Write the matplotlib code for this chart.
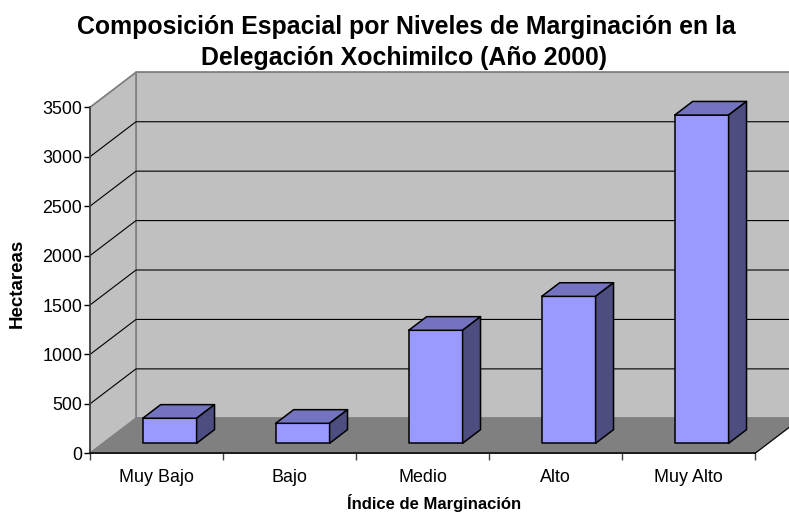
import matplotlib
matplotlib.use('Agg')
import matplotlib.pyplot as plt
from matplotlib.patches import Polygon

categories = ['Muy Bajo', 'Bajo', 'Medio', 'Alto', 'Muy Alto']
hectareas = [253, 202, 1143, 1486, 3320]
y_ticks = [0, 500, 1000, 1500, 2000, 2500, 3000, 3500]

# oblique offset of the back wall, in data units
DX = 46 / 133.0
DY = 354.0
BAR_W = 0.405
BAR_FRONT = 0.286
BAR_DEPTH = 0.39


def proj(x, v, d):
    return (x + d * DX, v + d * DY)


def face(ax, pts, color, edge, lw=1.0, z=1):
    ax.add_patch(Polygon(pts, closed=True, facecolor=color, edgecolor=edge,
                         linewidth=lw, clip_on=False, zorder=z, joinstyle='round'))


plt.rcParams['font.family'] = ['Liberation Sans', 'DejaVu Sans']

fig = plt.figure(figsize=(7.89, 5.12), dpi=100)
ax = fig.add_axes([90 / 789., (512 - 453.3) / 512., 665 / 789., 346 / 512.])
ax.set_xlim(0, 5)
ax.set_ylim(0, 3500)
ax.patch.set_visible(False)

# walls and floor
xr = 5.0
face(ax, [proj(0, 0, 1), proj(xr, 0, 1), proj(xr, 3500, 1), proj(0, 3500, 1)], '#c0c0c0', '#808080', 1.2)
face(ax, [proj(0, 0, 0), proj(0, 0, 1), proj(0, 3500, 1), proj(0, 3500, 0)], '#c0c0c0', '#808080', 1.2)
face(ax, [proj(0, 0, 0), proj(xr, 0, 0), proj(xr, 0, 1), proj(0, 0, 1)], '#808080', '#808080', 1.0)

# right edge of the floor
a = proj(xr, 0, 0)
b = proj(xr, 0, 1)
ax.plot([a[0], b[0]], [a[1], b[1]], color='black', lw=0.8, clip_on=False, zorder=2)

# gridlines
for t in y_ticks[1:]:
    a = proj(0, t, 0)
    b = proj(0, t, 1)
    c = proj(xr, t, 1)
    color = '#808080' if t == 3500 else 'black'
    ax.plot([a[0], b[0], c[0]], [a[1], b[1], c[1]], color=color, lw=0.8,
            clip_on=False, zorder=2)

# bars
for i, v in enumerate(hectareas):
    x0 = i + (1 - BAR_W) / 2
    x1 = x0 + BAR_W
    d0 = BAR_FRONT
    d1 = BAR_FRONT + BAR_DEPTH
    face(ax, [proj(x0, 0, d0), proj(x1, 0, d0), proj(x1, v, d0), proj(x0, v, d0)], '#9999ff', 'black', 1.1, 3)
    face(ax, [proj(x0, v, d0), proj(x1, v, d0), proj(x1, v, d1), proj(x0, v, d1)], '#7373bf', 'black', 1.1, 3)
    face(ax, [proj(x1, 0, d0), proj(x1, 0, d1), proj(x1, v, d1), proj(x1, v, d0)], '#4d4d80', 'black', 1.1, 3)

for s in ['top', 'right']:
    ax.spines[s].set_visible(False)
ax.spines['left'].set_color('#404040')
ax.spines['left'].set_linewidth(1.2)
ax.spines['bottom'].set_color('black')
ax.spines['bottom'].set_linewidth(1.1)

ax.set_yticks(y_ticks)
ax.set_xticks(range(6))
ax.set_xticklabels([])
ax.set_xticks([i + 0.5 for i in range(5)], minor=True)
ax.set_xticklabels(categories, minor=True)
ax.tick_params(axis='x', which='major', length=5, width=1, color='#404040')
ax.tick_params(axis='x', which='minor', length=0, labelsize=12.9, pad=11)
ax.tick_params(axis='y', length=4, width=1, labelsize=12.9, pad=1.5)

fig.text(406 / 789., 1 - 27 / 512., 'Composición Espacial por Niveles de Marginación en la',
         ha='center', va='center', fontsize=17.9, fontweight='bold')
fig.text(404 / 789., 1 - 58 / 512., 'Delegación Xochimilco (Año 2000)',
         ha='center', va='center', fontsize=17.9, fontweight='bold')
fig.text(434 / 789., 1 - 503 / 512., 'Índice de Marginación',
         ha='center', va='center', fontsize=12, fontweight='bold')
fig.text(17 / 789., 1 - 283 / 512., 'Hectareas', rotation=90,
         ha='center', va='center', fontsize=13.5, fontweight='bold')

fig.savefig('out.png', dpi=100)
